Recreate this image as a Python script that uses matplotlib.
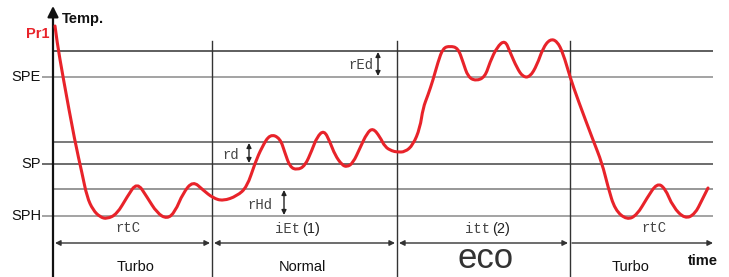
import matplotlib
matplotlib.use("Agg")
import matplotlib.pyplot as plt
from matplotlib.path import Path
from matplotlib.patches import PathPatch

# picture is drawn in a pixel-like frame: x = time, y = row (top = hot)
curve_t = [55, 57, 63, 75, 82, 87, 93, 100, 107, 117, 127, 137, 147, 157, 167,
           175, 183, 193, 203, 213, 223, 237, 247, 255, 262, 270, 280, 285, 290,
           297, 305, 312, 317, 324, 330, 335, 342, 347, 353, 360, 367, 373, 380,
           385, 392, 397, 405, 413, 420, 423, 428, 433, 438, 443, 450, 458, 463,
           468, 476, 485, 490, 497, 505, 510, 517, 523, 530, 537, 543, 550, 557,
           563, 570, 578, 593, 602, 608, 615, 627, 637, 647, 657, 665, 673, 685,
           695, 702, 708]
curve_temp = [26, 42, 77, 142, 173, 197, 210, 217, 219, 214, 197, 182, 197, 213,
              219, 212, 193, 181, 190, 198, 201, 196, 187, 163, 147, 134, 138,
              153, 167, 170, 166, 150, 137, 130, 142, 155, 165, 167, 163, 148,
              133, 128, 137, 147, 151, 152, 152, 145, 128, 108, 95, 80, 62, 48,
              46, 48, 62, 77, 81, 77, 62, 47, 40, 52, 68, 77, 77, 65, 48, 39, 41,
              53, 77, 100, 140, 163, 187, 210, 220, 215, 198, 183, 188, 207, 219,
              214, 200, 188]

level_rows = [51, 77, 142, 164, 189, 216]
level_colors = ["#333333", "#8a8a8a", "#555555", "#444444", "#7a7a7a", "#8a8a8a"]
level_names = {77: "SPE", 164: "SP", 216: "SPH"}

dividers = [53, 212, 397, 570, 713]
modes = ["Turbo", "Normal", "eco", "Turbo"]
params = ["rtC", "iEt", "itt", "rtC"]
param_tags = ["", "(1)", "(2)", ""]

fig = plt.figure(figsize=(7.29, 2.77), dpi=100)
ax = fig.add_axes([0, 0, 1, 1])
ax.set_xlim(0, 729)
ax.set_ylim(277, 0)
ax.axis("off")

sans = "Liberation Sans"
mono = "Liberation Mono"

# level lines
for row, col in zip(level_rows, level_colors):
    x0 = 42 if row in level_names else 53
    ax.plot([x0, 713], [row, row], color=col, lw=1.1, solid_capstyle="butt")
    if row in level_names:
        ax.text(41, row, level_names[row], ha="right", va="center",
                fontsize=10.5, family=sans, color="#111111")

# vertical dividers
for x in dividers[1:4]:
    ax.plot([x, x], [41, 277], color="#333333", lw=1.0)

# axes with arrows
ax.annotate("", xy=(53, 6), xytext=(53, 277),
            arrowprops=dict(arrowstyle="-|>", color="#111111", lw=1.6,
                            mutation_scale=16, shrinkA=0, shrinkB=0))
ax.annotate("", xy=(722, 278), xytext=(53, 278),
            arrowprops=dict(arrowstyle="-|>", color="#111111", lw=1.6,
                            mutation_scale=16, shrinkA=0, shrinkB=0))
ax.text(62, 19, "Temp.", ha="left", va="center", fontsize=10.5,
        family=sans, weight="bold", color="#111111")
ax.text(50, 34, "Pr1", ha="right", va="center", fontsize=10.5,
        family=sans, weight="bold", color="#e8232a")
ax.text(703, 261, "time", ha="center", va="center", fontsize=10.5,
        family=sans, weight="bold", color="#111111")

# duration arrows
arrow_row = 243
for i in range(4):
    a, b = dividers[i], dividers[i + 1]
    style = "<|-|>" if i < 3 else "<|-"
    ax.annotate("", xy=(a + 2, arrow_row), xytext=(b - 2 if i < 3 else b, arrow_row),
                arrowprops=dict(arrowstyle=style, color="#333333", lw=1.0,
                                mutation_scale=8, shrinkA=0, shrinkB=0))

# parameter labels above the arrows
param_x = [128, 300, 490, 654]
for i, (p, tag) in enumerate(zip(params, param_tags)):
    if tag:
        ax.text(param_x[i], 229, p, ha="right", va="center", fontsize=10,
                family=mono, color="#444444")
        ax.text(param_x[i] + 2, 229, tag, ha="left", va="center",
                fontsize=10.5, family=sans, color="#222222")
    else:
        ax.text(param_x[i], 228, p, ha="center", va="center", fontsize=10,
                family=mono, color="#444444")

# mode names
mode_x = [136, 302, 486, 631]
for m, x in zip(modes, mode_x):
    if m == "eco":
        ax.text(x, 259, m, ha="center", va="center", fontsize=25,
                family=sans, color="#333333")
    else:
        ax.text(x, 267, m, ha="center", va="center", fontsize=10.5,
                family=sans, color="#111111")

# differential markers
diffs = [("rEd", 378, 52, 76, 361, 65),
         ("rd", 249, 143, 163, 231, 155),
         ("rHd", 284, 190, 215, 260, 205)]
for name, x, r0, r1, tx, ty in diffs:
    ax.annotate("", xy=(x, r0), xytext=(x, r1),
                arrowprops=dict(arrowstyle="<|-|>", color="#222222", lw=1.0,
                                mutation_scale=7, shrinkA=0, shrinkB=0))
    ax.text(tx, ty, name, ha="center", va="center", fontsize=10,
            family=mono, color="#444444")

# temperature curve, smoothed with quadratic bezier segments
pts = list(zip(curve_t, curve_temp))
verts = [pts[0]]
codes = [Path.MOVETO]
for i in range(1, len(pts) - 1):
    mid = ((pts[i][0] + pts[i + 1][0]) / 2, (pts[i][1] + pts[i + 1][1]) / 2)
    verts += [pts[i], mid]
    codes += [Path.CURVE3, Path.CURVE3]
verts.append(pts[-1])
codes.append(Path.LINETO)
ax.add_patch(PathPatch(Path(verts, codes), facecolor="none", edgecolor="#e8232a",
                       lw=2.2, capstyle="round", joinstyle="round", zorder=5))

fig.savefig("out.png", dpi=100)
